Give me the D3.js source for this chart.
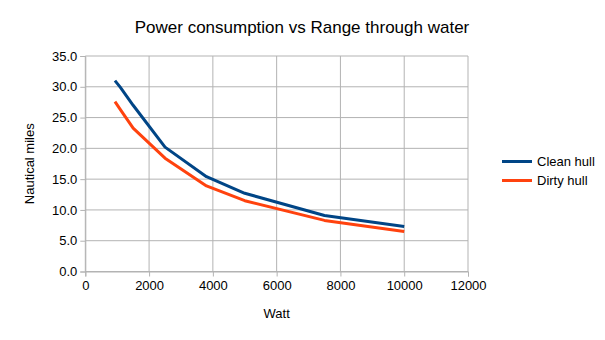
<!DOCTYPE html>
<html>
<head>
<meta charset="utf-8">
<script src="https://cdn.jsdelivr.net/npm/d3@7"></script>
<style>
  body { margin: 0; background: #fff; }
  svg { font-family: "Liberation Sans", Arial, sans-serif; }
</style>
</head>
<body>
<div id="chart"></div>
<script>
const watts = [930, 1100, 1500, 2500, 3800, 5000, 7500, 10000];
const cleanHull = [31.0, 29.9, 27.0, 20.2, 15.4, 12.7, 9.1, 7.3];
const dirtyHull = [27.6, 26.3, 23.3, 18.4, 13.9, 11.5, 8.3, 6.5];
const xTicks = [0, 2000, 4000, 6000, 8000, 10000, 12000];
const yTicks = [0, 5, 10, 15, 20, 25, 30, 35];

const series = [
    { name: 'Clean hull', values: cleanHull, color: '#004586' },
    { name: 'Dirty hull', values: dirtyHull, color: '#ff420e' }
];

const width = 605, height = 340;
const margin = { top: 56, right: 137, bottom: 68.5, left: 85.3 };
const plotW = width - margin.left - margin.right;
const plotH = height - margin.top - margin.bottom;

const svg = d3.select('#chart').append('svg')
    .attr('width', width)
    .attr('height', height);

const g = svg.append('g')
    .attr('transform', 'translate(' + margin.left + ',' + margin.top + ')');

const x = d3.scaleLinear().domain([0, 12000]).range([0, plotW]);
const y = d3.scaleLinear().domain([0, 35]).range([plotH, 0]);

// grid
g.selectAll('.vgrid').data(xTicks).enter().append('line')
    .attr('x1', d => x(d)).attr('x2', d => x(d))
    .attr('y1', 0).attr('y2', plotH)
    .style('stroke', '#b3b3b3').style('stroke-width', 1);
g.selectAll('.hgrid').data(yTicks).enter().append('line')
    .attr('x1', 0).attr('x2', plotW)
    .attr('y1', d => y(d)).attr('y2', d => y(d))
    .style('stroke', '#b3b3b3').style('stroke-width', 1);

const xAxis = d3.axisBottom(x).tickValues(xTicks).tickSize(5).tickPadding(4).tickFormat(d3.format('d'));
const yAxis = d3.axisLeft(y).tickValues(yTicks).tickSize(5).tickPadding(3).tickFormat(d3.format('.1f'));

const gx = g.append('g').attr('transform', `translate(0, ${plotH})`).call(xAxis);
const gy = g.append('g').call(yAxis);
[gx, gy].forEach(a => {
    a.select('.domain').style('stroke', '#b3b3b3');
    a.selectAll('.tick line').style('stroke', '#b3b3b3');
    a.selectAll('.tick text')
        .style('font-family', '"Liberation Sans", Arial, sans-serif')
        .style('font-size', '13px')
        .style('fill', '#000');
});

const line = d3.line()
    .x((d, i) => x(watts[i]))
    .y(d => y(d));

series.forEach(s => {
    g.append('path')
        .datum(s.values)
        .attr('d', line)
        .style('fill', 'none')
        .style('stroke', s.color)
        .style('stroke-width', 3)
        .style('stroke-linejoin', 'round');
});

// title and axis labels
svg.append('text')
    .attr('x', 302).attr('y', 33)
    .style('text-anchor', 'middle')
    .style('font-size', '17px')
    .text('Power consumption vs Range through water');

svg.append('text')
    .attr('x', margin.left + x(6000)).attr('y', 318)
    .style('text-anchor', 'middle')
    .style('font-size', '13px')
    .text('Watt');

svg.append('text')
    .attr('transform', 'rotate(-90)')
    .attr('x', -(margin.top + plotH / 2)).attr('y', 34)
    .style('text-anchor', 'middle')
    .style('font-size', '13px')
    .text('Nautical miles');

// legend
const legend = svg.append('g').attr('transform', 'translate(502, 161.5)');
series.forEach((s, i) => {
    legend.append('line')
        .attr('x1', 0).attr('x2', 30)
        .attr('y1', i * 19).attr('y2', i * 19)
        .style('stroke', s.color)
        .style('stroke-width', 3);
    legend.append('text')
        .attr('x', 35).attr('y', i * 19 + 4.5)
        .style('font-size', '13px')
        .text(s.name);
});
</script>
</body>
</html>
